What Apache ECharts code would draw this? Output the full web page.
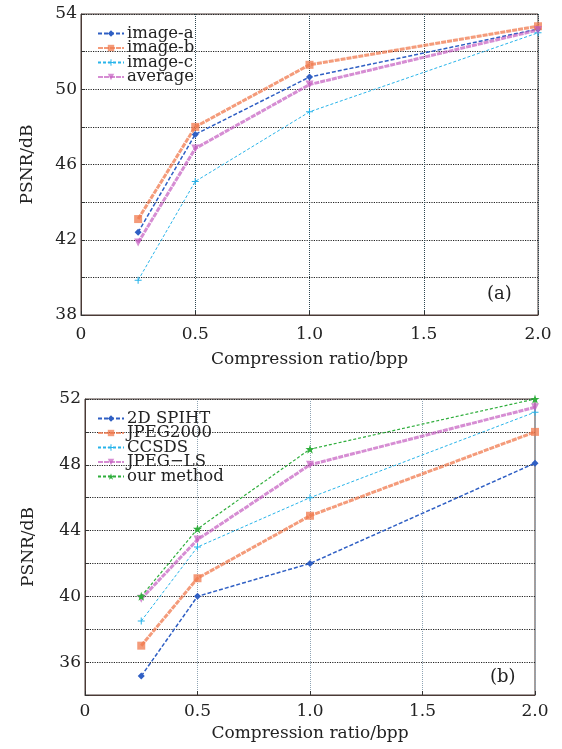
<!DOCTYPE html>
<html>
<head>
<meta charset="utf-8">
<script src="https://cdn.jsdelivr.net/npm/echarts@6/dist/echarts.min.js"></script>
<style>
  html, body { margin: 0; padding: 0; background: #fff; }
  #chart { width: 562px; height: 749px; }
</style>
</head>
<body>
<div id="chart"></div>
<script>
// bit rate (bpp) of each measured point
const bppA = [0.25, 0.5, 1.0, 2.0]
const bppB = [0.25, 0.5, 1.0, 2.0]

// (a) PSNR of the three test images and their average
const imageA = [42.4, 47.6, 50.65, 53.2]
const imageB = [43.1, 48.0, 51.3, 53.35]
const imageC = [39.85, 45.1, 48.8, 53.0]
const average = [41.85, 46.85, 50.25, 53.15]

// (b) comparison with other coders
const spiht = [35.15, 40.0, 42.0, 48.1]
const jpeg2000 = [37.0, 41.1, 44.9, 50.0]
const ccsds = [38.5, 43.0, 46.0, 51.2]
const jpegLs = [39.85, 43.45, 48.0, 51.5]
const ourMethod = [40.0, 44.1, 48.95, 52.0]

const xTicks = [0, 0.5, 1.0, 1.5, 2.0]
const yLabelsA = [38, 42, 46, 50, 54]
const yLabelsB = [36, 40, 44, 48, 52]

const serif = 'DejaVu Serif'
const plus = 'path://M3.4,0H4.6V3.4H8V4.6H4.6V8H3.4V4.6H0V3.4H3.4Z'
const star = 'path://M5,0L6.2,3.6L10,3.6L7,5.9L8.1,9.5L5,7.3L1.9,9.5L3,5.9L0,3.6L3.8,3.6Z'

const pair = (xs, ys) => xs.map((x, i) => [x, ys[i]])

const xAxisOf = (gridIndex, gridColor, gap, margin) => ({
  type: 'value',
  gridIndex: gridIndex,
  min: 0,
  max: 2,
  interval: 0.5,
  name: 'Compression ratio/bpp',
  nameLocation: 'middle',
  nameGap: gap,
  nameTextStyle: { fontFamily: serif, fontSize: 17, color: '#222' },
  axisLine: { show: true, lineStyle: { color: '#4a3a36', width: 1 } },
  axisTick: { show: true, inside: true, length: 4, lineStyle: { color: '#333' } },
  axisLabel: {
    fontFamily: serif, fontSize: 17, color: '#222', margin: margin,
    formatter: (v) => xTicks.indexOf(v) === 0 ? '0' : v.toFixed(1)
  },
  splitLine: { show: true, lineStyle: { type: 'dotted', color: gridColor, width: 1 } }
})

const yAxisOf = (gridIndex, min, max, labels, gap) => ({
  type: 'value',
  gridIndex: gridIndex,
  min: min,
  max: max,
  interval: 2,
  name: 'PSNR/dB',
  nameLocation: 'middle',
  nameGap: gap,
  nameTextStyle: { fontFamily: serif, fontSize: 17, color: '#222' },
  axisLine: { show: true, lineStyle: { color: '#4a3a36', width: 1 } },
  axisTick: { show: true, inside: true, length: 4, lineStyle: { color: '#333' } },
  axisLabel: {
    fontFamily: serif, fontSize: 17, color: '#222', margin: 4,
    formatter: (v) => labels.indexOf(v) >= 0 ? String(v) : ''
  },
  splitLine: { show: true, lineStyle: { type: 'dotted', color: '#222', width: 1.2 } }
})

const lineOf = (name, idx, xs, ys, color, width, dash, symbol, size, opacity, rotate) => ({
  name: name,
  type: 'line',
  xAxisIndex: idx,
  yAxisIndex: idx,
  data: pair(xs, ys),
  symbol: symbol,
  symbolSize: size,
  symbolRotate: rotate || 0,
  showAllSymbol: true,
  itemStyle: { color: color, opacity: opacity },
  lineStyle: { color: color, width: width, type: dash, opacity: opacity },
  z: 3
})

const legendOf = (idx, top, names) => ({
  gridIndex: idx,
  orient: 'vertical',
  left: 92,
  top: top,
  itemWidth: 26,
  itemHeight: 8,
  itemGap: -2.5,
  backgroundColor: 'transparent',
  data: names,
  textStyle: { fontFamily: serif, fontSize: 16.5, color: '#222', padding: [0, 0, 0, -2] }
})

const chart = echarts.init(document.getElementById('chart'))

const option = {
  animation: false,
  backgroundColor: '#fff',
  grid: [
    { left: 81, top: 14, width: 457, height: 301, show: true, borderColor: '#4a3a36', borderWidth: 1 },
    { left: 85, top: 399, width: 450, height: 296, show: true, borderColor: '#4a3a36', borderWidth: 1 }
  ],
  legend: [
    legendOf(0, 20, ['image-a', 'image-b', 'image-c', 'average']),
    legendOf(1, 405, ['2D SPIHT', 'JPEG2000', 'CCSDS', 'JPEG\u2212LS', 'our method'])
  ],
  xAxis: [xAxisOf(0, '#2d4650', 36, 11), xAxisOf(1, '#8fa4b4', 30, 8)],
  yAxis: [yAxisOf(0, 38, 54, yLabelsA, 45), yAxisOf(1, 34, 52, yLabelsB, 48)],
  graphic: [
    { type: 'text', left: 487, top: 285, style: { text: '(a)', fontFamily: serif, fontSize: 18, fill: '#222' } },
    { type: 'text', left: 490, top: 668, style: { text: '(b)', fontFamily: serif, fontSize: 18, fill: '#222' } }
  ],
  series: [
    lineOf('image-a', 0, bppA, imageA, '#2f5fc4', 1.5, [4, 2], 'diamond', 7, 1),
    lineOf('image-b', 0, bppA, imageB, '#f07a4e', 3, [5, 1], 'rect', 8, 0.75),
    lineOf('image-c', 0, bppA, imageC, '#28b4ea', 1, [3, 2], plus, 7, 1),
    lineOf('average', 0, bppA, average, '#c45cc0', 3, [5, 1], 'triangle', 8, 0.7, 180),
    lineOf('2D SPIHT', 1, bppB, spiht, '#2f5fc4', 1.5, [4, 2], 'diamond', 7, 1),
    lineOf('JPEG2000', 1, bppB, jpeg2000, '#f07a4e', 3, [5, 1], 'rect', 8, 0.75),
    lineOf('CCSDS', 1, bppB, ccsds, '#28b4ea', 1, [3, 2], plus, 7, 1),
    lineOf('JPEG\u2212LS', 1, bppB, jpegLs, '#c45cc0', 3, [5, 1], 'triangle', 8, 0.7, 180),
    lineOf('our method', 1, bppB, ourMethod, '#2fae3c', 1.2, [3, 2], star, 9, 1)
  ]
}

chart.setOption(option)
</script>
</body>
</html>
